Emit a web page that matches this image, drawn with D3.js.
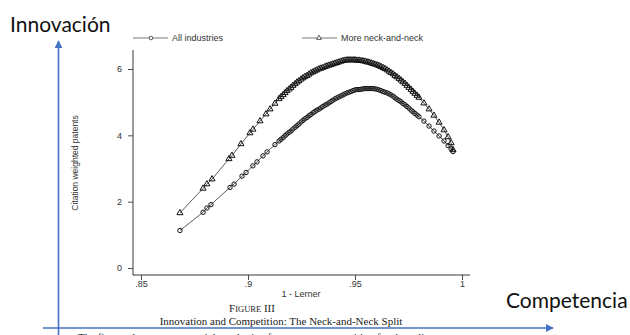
<!DOCTYPE html>
<html>
<head>
<meta charset="utf-8">
<script src="https://cdn.jsdelivr.net/npm/d3@7"></script>
<style>
  body { margin: 0; background: #fff; }
  svg { display: block; }
</style>
</head>
<body>
<div id="chart"></div>
<script>
// 1 - Lerner values and fitted citation weighted patents
const lernerAll = [.8682,.8790,.8808,.8827,.8916,.8935,.8972,.8991,.9023,.9042,.9070,.9089,
    .9126,.9145,.9154,.9164,.9173,.9182,.9192,.9201,.9210,.9220,.9229,.9238,.9248,.9257,.9266,.9276,.9285,.9294,
    .9304,.9313,.9322,.9332,.9341,.9350,.9360,.9369,.9379,.9388,.9397,.9407,.9416,.9425,.9435,.9444,.9453,.9463,
    .9472,.9481,.9491,.9500,.9509,.9519,.9528,.9537,.9547,.9556,.9565,.9575,.9584,.9593,.9603,.9612,.9621,.9631,
    .9640,.9650,.9659,.9668,.9678,.9687,.9696,.9706,.9715,.9724,.9734,.9743,.9752,.9762,.9771,.9780,.9790,.9799,
    .9822,.9846,.9869,.9893,.9916,.9935,.9949,.9958];
const patentsAll = [1.13,1.68,1.81,1.91,2.43,2.53,2.77,2.88,3.08,3.20,3.38,3.50,
    3.72,3.83,3.88,3.93,3.99,4.04,4.09,4.13,4.19,4.24,4.29,4.34,4.40,4.45,4.50,4.54,4.59,4.63,
    4.68,4.72,4.76,4.79,4.83,4.87,4.91,4.94,4.98,5.02,5.06,5.10,5.13,5.16,5.19,5.22,5.25,5.28,
    5.30,5.32,5.35,5.37,5.38,5.38,5.39,5.40,5.41,5.41,5.41,5.41,5.41,5.40,5.39,5.37,5.35,5.32,
    5.30,5.28,5.25,5.22,5.18,5.13,5.09,5.05,5.01,4.96,4.92,4.87,4.82,4.76,4.71,4.66,4.61,4.56,
    4.43,4.28,4.13,3.98,3.83,3.69,3.59,3.51];

const lernerNeck = [.8682,.8790,.8808,.8832,.8911,.8925,.8967,.9009,.9023,.9056,.9084,.9103,
    .9126,.9145,.9154,.9164,.9173,.9182,.9192,.9201,.9210,.9220,.9229,.9238,.9248,.9257,.9266,.9276,.9285,.9294,
    .9304,.9313,.9322,.9332,.9341,.9350,.9360,.9369,.9379,.9388,.9397,.9407,.9416,.9425,.9435,.9444,.9453,.9463,
    .9472,.9481,.9491,.9500,.9509,.9519,.9528,.9537,.9547,.9556,.9565,.9575,.9584,.9593,.9603,.9612,.9621,.9631,
    .9640,.9650,.9659,.9668,.9678,.9687,.9696,.9706,.9715,.9724,.9734,.9743,.9752,.9762,.9771,.9780,.9790,.9799,
    .9822,.9846,.9869,.9893,.9916,.9935,.9949,.9958];
const patentsNeck = [1.66,2.40,2.53,2.68,3.29,3.39,3.74,4.07,4.18,4.43,4.64,4.79,
    4.96,5.10,5.16,5.22,5.28,5.34,5.39,5.44,5.50,5.55,5.60,5.64,5.69,5.73,5.77,5.80,5.84,5.88,
    5.91,5.94,5.97,6.00,6.02,6.04,6.07,6.09,6.11,6.13,6.15,6.17,6.19,6.21,6.23,6.25,6.26,6.27,
    6.27,6.27,6.27,6.27,6.26,6.26,6.25,6.24,6.23,6.21,6.20,6.18,6.16,6.14,6.12,6.10,6.07,6.04,
    6.01,5.97,5.93,5.89,5.85,5.80,5.76,5.71,5.66,5.61,5.56,5.50,5.44,5.38,5.32,5.26,5.20,5.14,
    4.97,4.79,4.60,4.39,4.16,3.95,3.77,3.56];

const xTicks = [.85, .9, .95, 1];
const yTicks = [0, 2, 4, 6];
const seriesNames = ["All industries", "More neck-and-neck"];

const width = 630, height = 335;
const blue = "#4472c4";
const axisFont = "Liberation Sans, Arial, sans-serif";
const serif = "Liberation Serif, Times New Roman, serif";

const svg = d3.select("#chart").append("svg")
    .attr("width", width)
    .attr("height", height);

// scales (plot region of the Stata graph)
const x = d3.scaleLinear().domain([.85, 1]).range([141, 462]);
const y = d3.scaleLinear().domain([0, 6]).range([268, 69]);

const axisLeftX = 133, axisBottomY = 275;

// axis lines
svg.append("line")
    .attr("x1", axisLeftX).attr("x2", axisLeftX)
    .attr("y1", 50).attr("y2", axisBottomY)
    .attr("stroke", "#222").attr("stroke-width", 0.9);
svg.append("line")
    .attr("x1", axisLeftX).attr("x2", 470)
    .attr("y1", axisBottomY).attr("y2", axisBottomY)
    .attr("stroke", "#222").attr("stroke-width", 0.9);

// y axis
const yAxis = svg.append("g")
    .attr("transform", `translate(${axisLeftX},0)`)
    .call(d3.axisLeft(y).tickValues(yTicks).tickSize(5).tickPadding(6).tickFormat(d3.format("d")));
yAxis.select(".domain").remove();
yAxis.selectAll("line").attr("stroke", "#222").attr("stroke-width", 0.8);
yAxis.selectAll("text")
    .attr("font-family", axisFont).attr("font-size", 9).attr("fill", "#333");

// x axis
const fmtX = d => d === 1 ? "1" : d3.format(".2~f")(d).replace(/^0/, "");
const xAxis = svg.append("g")
    .attr("transform", `translate(0,${axisBottomY})`)
    .call(d3.axisBottom(x).tickValues(xTicks).tickSize(5).tickPadding(1).tickFormat(fmtX));
xAxis.select(".domain").remove();
xAxis.selectAll("line").attr("stroke", "#222").attr("stroke-width", 0.8);
xAxis.selectAll("text")
    .attr("font-family", axisFont).attr("font-size", 9).attr("fill", "#333");

// axis titles
svg.append("text")
    .attr("transform", "translate(78,163) rotate(-90)")
    .attr("text-anchor", "middle")
    .attr("font-family", axisFont).attr("font-size", 8.5).attr("fill", "#333")
    .text("Citation weighted patents");
svg.append("text")
    .attr("x", 301).attr("y", 297)
    .attr("text-anchor", "middle")
    .attr("font-family", axisFont).attr("font-size", 9).attr("fill", "#333")
    .text("1 - Lerner");

// series
const allData = lernerAll.map((d, i) => ({ x: d, y: patentsAll[i] }));
const neckData = lernerNeck.map((d, i) => ({ x: d, y: patentsNeck[i] }));

const line = d3.line().x(d => x(d.x)).y(d => y(d.y));
const triangle = d3.symbol().type(d3.symbolTriangle).size(16);

svg.append("path").datum(neckData)
    .attr("d", line).attr("fill", "none").attr("stroke", "#111").attr("stroke-width", 0.7);
svg.append("path").datum(allData)
    .attr("d", line).attr("fill", "none").attr("stroke", "#111").attr("stroke-width", 0.7);

svg.append("g").selectAll("circle")
    .data(allData)
    .enter()
    .append("circle")
    .attr("cx", d => x(d.x))
    .attr("cy", d => y(d.y))
    .attr("r", 2.2)
    .attr("fill", "none")
    .attr("stroke", "#111")
    .attr("stroke-width", 1);

svg.append("g").selectAll("path")
    .data(neckData)
    .enter()
    .append("path")
    .attr("transform", d => `translate(${x(d.x)},${y(d.y)})`)
    .attr("d", triangle)
    .attr("fill", "none")
    .attr("stroke", "#111")
    .attr("stroke-width", 1);

// legend
const legend = svg.append("g").attr("font-family", axisFont).attr("font-size", 9).attr("fill", "#333");
const legendX = [133, 302];
seriesNames.forEach((name, i) => {
    const g = legend.append("g").attr("transform", `translate(${legendX[i]},38)`);
    g.append("line").attr("x1", 0).attr("x2", 35).attr("stroke", "#555").attr("stroke-width", 0.8);
    if (i === 0) {
        g.append("circle").attr("cx", 18).attr("r", 1.8).attr("fill", "#fff").attr("stroke", "#333").attr("stroke-width", 0.8);
    } else {
        g.append("path").attr("transform", "translate(17,0)").attr("d", d3.symbol().type(d3.symbolTriangle).size(10))
            .attr("fill", "#fff").attr("stroke", "#333").attr("stroke-width", 0.8);
    }
    g.append("text").attr("x", 39).attr("y", 3).text(name);
});

// caption
const cap = svg.append("text")
    .attr("x", 252).attr("y", 312)
    .attr("text-anchor", "middle")
    .attr("font-family", serif).attr("font-size", 11).attr("fill", "#222");
cap.append("tspan").text("F");
cap.append("tspan").attr("font-size", 8.5).text("IGURE");
cap.append("tspan").text(" III");

svg.append("text")
    .attr("x", 281).attr("y", 325)
    .attr("text-anchor", "middle")
    .attr("font-family", serif).attr("font-size", 11).attr("fill", "#222")
    .text("Innovation and Competition: The Neck-and-Neck Split");

// first caption line, cut by the bottom edge as in the source
svg.append("text")
    .attr("x", 78).attr("y", 341)
    .attr("font-family", serif).attr("font-size", 11).attr("fill", "#222")
    .text("The figure plots an exponential quadratic of patents on competition for the split.");

// overlay arrows and labels
const defs = svg.append("defs");
defs.append("marker")
    .attr("id", "head")
    .attr("viewBox", "0 0 10 10")
    .attr("refX", 9).attr("refY", 5)
    .attr("markerWidth", 5).attr("markerHeight", 5)
    .attr("orient", "auto")
    .append("path").attr("d", "M0,0L10,5L0,10z").attr("fill", blue);

svg.append("line")
    .attr("x1", 58.5).attr("y1", 335).attr("x2", 58.5).attr("y2", 41)
    .attr("stroke", blue).attr("stroke-width", 1.6)
    .attr("marker-end", "url(#head)");
svg.append("line")
    .attr("x1", 43).attr("y1", 328).attr("x2", 553).attr("y2", 328)
    .attr("stroke", blue).attr("stroke-width", 1.6)
    .attr("marker-end", "url(#head)");

svg.append("text")
    .attr("x", 10).attr("y", 32)
    .attr("font-family", "Lato, Open Sans, sans-serif").attr("font-size", 21).attr("fill", "#111")
    .text("Innovación");
svg.append("text")
    .attr("x", 506).attr("y", 308)
    .attr("font-family", "Lato, Open Sans, sans-serif").attr("font-size", 21).attr("fill", "#111")
    .text("Competencia");
</script>
</body>
</html>
